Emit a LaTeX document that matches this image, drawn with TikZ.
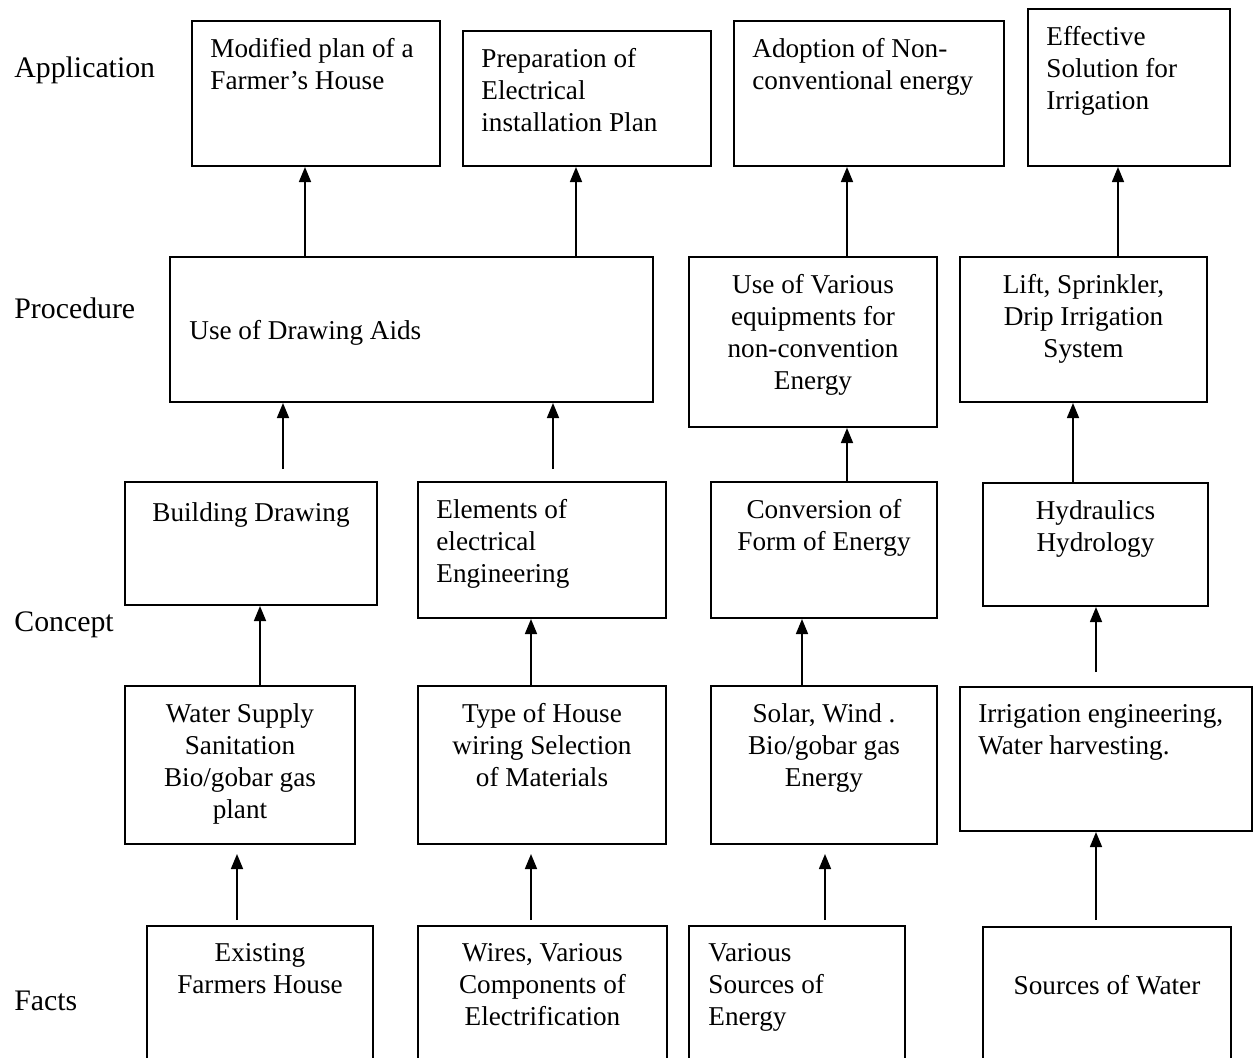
\documentclass[tikz,border=0pt]{standalone}
\usepackage{fontspec}
\setmainfont{Liberation Serif}
\usetikzlibrary{fit,positioning,arrows.meta}

\tikzset{
  box/.style={draw, line width=1pt, inner sep=0pt},
  txt/.style={inner sep=0pt, align=center, font=\fontsize{13.6}{16}\selectfont,
    execute at begin node=\strut},
  ltxt/.style={txt, align=left},
  lab/.style={inner sep=0pt, anchor=base west, font=\fontsize{14.9}{17}\selectfont},
  arr/.style={line width=0.8pt, -{Triangle[width=6pt,length=7.5pt]}}
}

\begin{document}
\begin{tikzpicture}[x=0.5pt, y=-0.5pt]
    \clip (0,0) rectangle (1254,1057);
    % row labels
    \node[lab] (lapp) at (14,77) {Application};
    \node[lab] (lproc) at (14,318) {Procedure};
    \node[lab] (lcon) at (14,631) {Concept};
    \node[lab] (lfact) at (14,1010) {Facts};

    % application
    \node[box, fit={(192,21) (440,166)}] (a1) {};
    \node[box, fit={(463,31) (711,166)}] (a2) {};
    \node[box, fit={(734,21) (1004,166)}] (a3) {};
    \node[box, fit={(1028,9) (1230,166)}] (a4) {};
    \node[ltxt, below right=9pt and 9.5pt of a1.north west] (a1t) {Modified plan of a\\Farmer's House};
    \node[ltxt, below right=9pt and 9.5pt of a2.north west] (a2t) {Preparation of\\Electrical\\installation Plan};
    \node[ltxt, below right=9pt and 9.5pt of a3.north west] (a3t) {Adoption of Non-\\conventional energy};
    \node[ltxt, below right=9pt and 9.5pt of a4.north west] (a4t) {Effective\\Solution for\\Irrigation};

    % procedure
    \node[box, fit={(170,257) (653,402)}] (p1) {};
    \node[box, fit={(689,257) (937,427)}] (p2) {};
    \node[box, fit={(960,257) (1207,402)}] (p3) {};
    \node[ltxt, below right=30.3pt and 10pt of p1.north west] (p1t) {Use of Drawing Aids};
    \node[txt, below=9pt of p2.north] (p2t) {Use of Various\\equipments for\\non-convention\\Energy};
    \node[txt, below=9pt of p3.north] (p3t) {Lift, Sprinkler,\\Drip Irrigation\\System};

    % concept
    \node[box, fit={(125,482) (377,605)}] (c1) {};
    \node[box, fit={(418,482) (666,618)}] (c2) {};
    \node[box, fit={(711,482) (937,618)}] (c3) {};
    \node[box, fit={(983,483) (1208,606)}] (c4) {};
    \node[txt, below=9pt of c1.north] (c1t) {Building Drawing};
    \node[ltxt, below right=9pt and 9.5pt of c2.north west] (c2t) {Elements of\\electrical\\Engineering};
    \node[txt, below=9pt of c3.north] (c3t) {Conversion of\\Form of Energy};
    \node[txt, below=9pt of c4.north] (c4t) {Hydraulics\\Hydrology};

    \node[box, fit={(125,686) (355,844)}] (d1) {};
    \node[box, fit={(418,686) (666,844)}] (d2) {};
    \node[box, fit={(711,686) (937,844)}] (d3) {};
    \node[box, fit={(960,687) (1252,831)}] (d4) {};
    \node[txt, below=9pt of d1.north] (d1t) {Water Supply\\Sanitation\\Bio/gobar gas\\plant};
    \node[txt, below=9pt of d2.north] (d2t) {Type of House\\wiring Selection\\of Materials};
    \node[txt, below=9pt of d3.north] (d3t) {Solar, Wind .\\Bio/gobar gas\\Energy};
    \node[ltxt, below right=9pt and 9.5pt of d4.north west] (d4t) {Irrigation engineering,\\Water harvesting.};

    % facts
    \node[box, fit={(147,926) (373,1080)}] (f1) {};
    \node[box, fit={(418,926) (667,1080)}] (f2) {};
    \node[box, fit={(689,926) (905,1080)}] (f3) {};
    \node[box, fit={(983,927) (1231,1080)}] (f4) {};
    \node[txt, below=9pt of f1.north] (f1t) {Existing\\Farmers House};
    \node[txt, below=9pt of f2.north] (f2t) {Wires, Various\\Components of\\Electrification};
    \node[ltxt, below right=9pt and 10pt of f3.north west] (f3t) {Various\\Sources of\\Energy};
    \node[txt, below=23pt of f4.north] (f4t) {Sources of Water};

    % arrows
    \foreach \x/\a/\b in {305/p1/a1, 576/p1/a2, 847/p2/a3, 1118/p3/a4,
                          847/c3/p2, 1073/c4/p3,
                          260/d1/c1, 531/d2/c2, 802/d3/c3}
      \draw[arr] (\a.north -| \x,0) -- (\b.south -| \x,0);
    \draw[arr, shorten <=6pt] (c1.north -| 283,0) -- (p1.south -| 283,0);
    \draw[arr, shorten <=6pt] (c2.north -| 553,0) -- (p1.south -| 553,0);
    \draw[arr, shorten <=7pt] (d4.north -| 1096,0) -- (c4.south -| 1096,0);
    \foreach \x/\a/\b in {237/f1/d1, 531/f2/d2, 825/f3/d3}
      \draw[arr, shorten <=2.5pt, shorten >=4.5pt] (\a.north -| \x,0) -- (\b.south -| \x,0);
    \draw[arr, shorten <=3pt] (f4.north -| 1096,0) -- (d4.south -| 1096,0);
\end{tikzpicture}
\end{document}
